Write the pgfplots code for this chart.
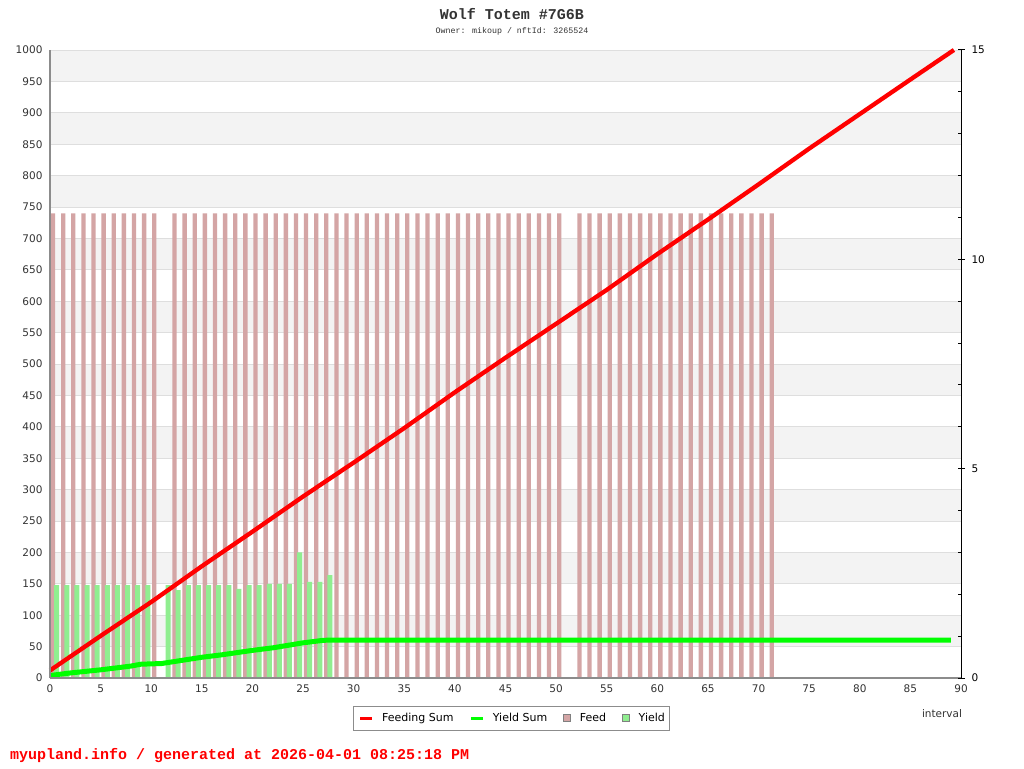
\documentclass[border=0pt]{standalone}
\usepackage{fontspec}
\setmainfont{DejaVu Sans}
\newfontfamily\monof{Liberation Mono}
\usepackage{pgfplots}
\pgfplotsset{compat=1.18}
\definecolor{feedc}{HTML}{D4A5A5}
\definecolor{yieldc}{HTML}{90EE90}
\definecolor{bandc}{HTML}{F3F3F3}
\definecolor{gridc}{HTML}{DEDEDE}
\definecolor{txtc}{HTML}{333333}
\definecolor{axc}{HTML}{8C8C8C}
\definecolor{pred}{HTML}{FF0000}
\definecolor{pgreen}{HTML}{00FF00}
\begin{document}
\begin{tikzpicture}
\fill[white] (0pt,0pt) rectangle (1024pt,768pt);
\begin{axis}[
  at={(50pt,90pt)}, anchor=south west, scale only axis,
  width=911pt, height=628pt,
  xmin=0, xmax=90, ymin=0, ymax=1000,
  xtick={0,5,...,90}, ytick={0,50,...,1000},
  axis x line*=bottom, axis y line*=left,
  axis line style={axc, line width=1.3pt},
  axis on top,
  major tick length=0pt,
  tick label style={txtc, font=\fontsize{10.5}{12}\selectfont},
  xticklabel style={yshift=-3pt},
  yticklabel style={xshift=-4pt},
  /pgf/number format/assume math mode=true,
  /pgf/number format/1000 sep={},
  clip=false,
  legend columns=4,
  legend style={at={(0.507,-0.0445)}, anchor=north, draw=axc, line width=0.8pt,
    font=\fontsize{11}{13}\selectfont, text=black, inner xsep=5pt, inner ysep=7pt,
    nodes={inner sep=0pt},
    /tikz/every odd column/.append style={column sep=9pt},
    /tikz/every even column/.append style={column sep=16pt}},
  legend cell align=left,
]
\pgfplotsinvokeforeach{50,150,250,350,450,550,650,750,850,950}{
  \fill[bandc] (axis cs:0,#1) rectangle (axis cs:90,{#1+50});
}
\pgfplotsinvokeforeach{50,100,...,1000}{
  \draw[gridc, line width=0.8pt] (axis cs:0,#1) -- (axis cs:90,#1);
}
\addplot[ybar, bar width=4.3pt, bar shift=0pt, fill=feedc, draw=none, forget plot] coordinates {
(0.3,740)(1.3,740)(2.3,740)(3.3,740)(4.3,740)(5.3,740)(6.3,740)(7.3,740)(8.3,740)(9.3,740)(10.3,740)
(12.3,740)(13.3,740)(14.3,740)(15.3,740)(16.3,740)(17.3,740)(18.3,740)(19.3,740)(20.3,740)
(21.3,740)(22.3,740)(23.3,740)(24.3,740)(25.3,740)(26.3,740)(27.3,740)(28.3,740)(29.3,740)
(30.3,740)(31.3,740)(32.3,740)(33.3,740)(34.3,740)(35.3,740)(36.3,740)(37.3,740)(38.3,740)
(39.3,740)(40.3,740)(41.3,740)(42.3,740)(43.3,740)(44.3,740)(45.3,740)(46.3,740)(47.3,740)
(48.3,740)(49.3,740)(50.3,740)
(52.3,740)(53.3,740)(54.3,740)(55.3,740)(56.3,740)(57.3,740)(58.3,740)(59.3,740)(60.3,740)
(61.3,740)(62.3,740)(63.3,740)(64.3,740)(65.3,740)(66.3,740)(67.3,740)(68.3,740)(69.3,740)
(70.3,740)(71.3,740)
};
\addplot[ybar, bar width=5pt, bar shift=0pt, fill=yieldc, draw=none, forget plot] coordinates {
(0.66,148)(1.66,148)(2.66,148)(3.66,148)(4.66,148)(5.66,148)(6.66,148)(7.66,148)(8.66,148)(9.66,148)
(11.66,148)(12.66,140)(13.66,148)(14.66,148)(15.66,148)(16.66,148)(17.66,148)(18.66,142)
(19.66,148)(20.66,148)(21.66,150)(22.66,150)(23.66,150)(24.66,200)(25.66,153)(26.66,153)(27.66,164)
};
\addplot[pred, line width=4.3pt, no marks,
  legend image code/.code={\draw[pred, line width=2.8pt] (0pt,0pt) -- (11.5pt,0pt);}] coordinates {
(0,12)(5,67)(10,121)(15,178)(20,233)(25,289)(30,343)(35,398)(40,455)(45,510)
(50,564)(55,618)(60,675)(65,730)(70,786)(75,843)(80,898)(85,953)(89.3,1000)
};
\addlegendentry{Feeding Sum}
\addplot[pgreen, line width=5pt, no marks,
  legend image code/.code={\draw[pgreen, line width=2.8pt] (0pt,0pt) -- (11.5pt,0pt);}] coordinates {
(0,4)(2,8)(5,13)(8,19)(9,22)(11,23)(13,28)(15,33)(17,37)(20,44)(22,48)(25,56)(27,60)(28,60.5)(89,60.5)
};
\addlegendentry{Yield Sum}
\addlegendimage{legend image code/.code={\draw[fill=feedc, draw=gray, line width=0.6pt] (0pt,-3.5pt) rectangle (7pt,3.5pt);}}
\addlegendentry{Feed}
\addlegendimage{legend image code/.code={\draw[fill=yieldc, draw=gray, line width=0.6pt] (0pt,-3.5pt) rectangle (7pt,3.5pt);}}
\addlegendentry{Yield}
\end{axis}
\begin{axis}[
  at={(50pt,90pt)}, anchor=south west, scale only axis,
  width=911pt, height=628pt,
  xmin=0, xmax=90, ymin=0, ymax=15,
  hide x axis, axis y line*=right,
  axis line style={black, line width=1pt},
  ytick={0,5,10,15}, minor ytick={1,2,3,4,6,7,8,9,11,12,13,14},
  tick align=inside, major tick length=3.5pt, minor tick length=3.5pt,
  tick style={black, line width=1pt},
  extra y ticks={0,5,10,15}, extra y tick labels={},
  extra y tick style={tick align=outside, major tick length=3.5pt},
  tick label style={black, font=\fontsize{10.5}{12}\selectfont},
  yticklabel style={xshift=7pt},
  /pgf/number format/assume math mode=true,
]
\addplot[draw=none, forget plot] coordinates {(0,0)(90,15)};
\end{axis}
\node[txtc, font=\monof\bfseries\fontsize{15}{15}\selectfont] at (512pt,754pt) {Wolf Totem \#7G6B};
\node[txtc, font=\monof\fontsize{8.3}{9}\selectfont] at (512pt,737pt) {Owner: mikoup / nftId: 3265524};
\node[pred, font=\monof\bfseries\fontsize{15}{15}\selectfont, anchor=base west, inner sep=0pt] at (10pt,9pt) {myupland.info / generated at 2026-04-01 08:25:18 PM};
\node[txtc, font=\fontsize{10.5}{12}\selectfont] at (942pt,54pt) {interval};
\end{tikzpicture}
\end{document}
